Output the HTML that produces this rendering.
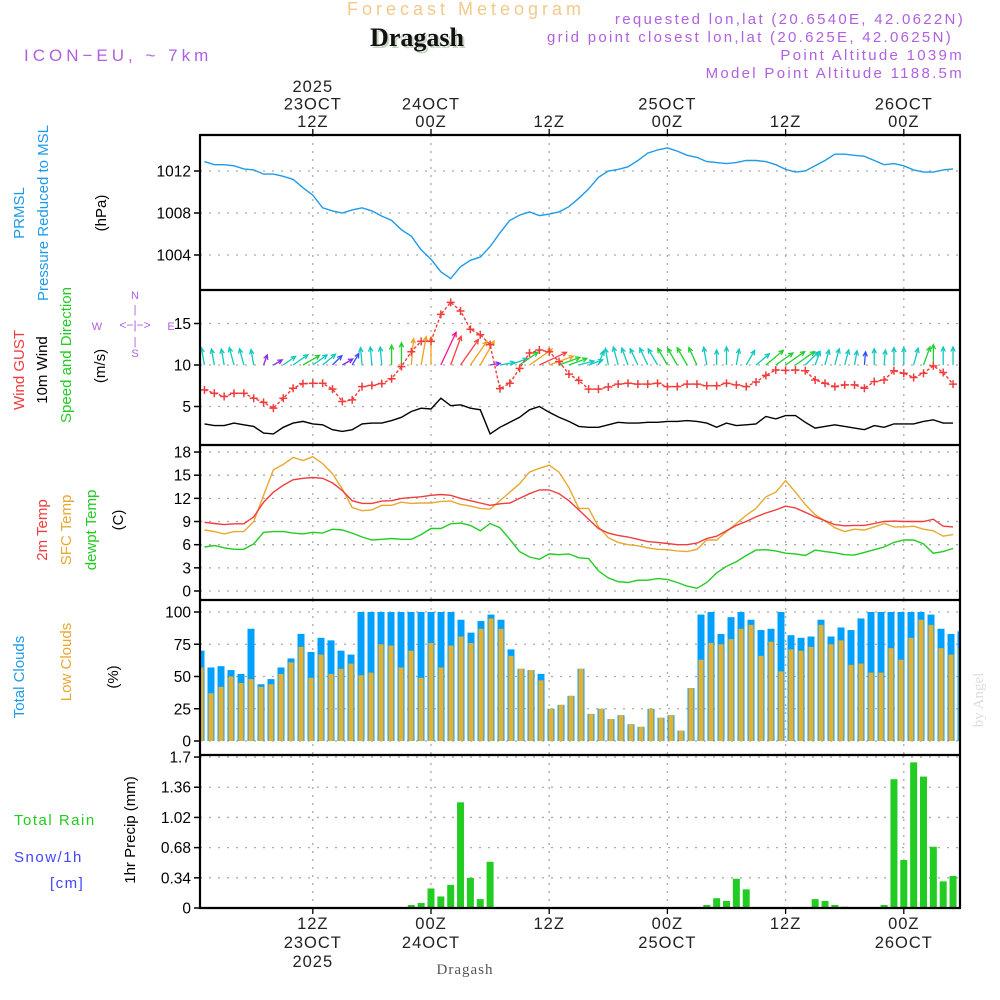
<!DOCTYPE html>
<html><head><meta charset="utf-8"><style>
html,body{margin:0;padding:0;background:#fff;}
svg{display:block;font-family:"Liberation Sans",sans-serif;}
</style></head><body>
<svg id="chart" width="1000" height="1000" viewBox="0 0 1000 1000" xmlns="http://www.w3.org/2000/svg">
<rect x="0" y="0" width="1000" height="1000" fill="#fff"/>
<g id="grid"></g>
<g id="marks"></g>
<g id="axes"></g>
<g>
<text x="466" y="15" text-anchor="middle" font-size="18" letter-spacing="4" fill="#f3c98a">Forecast Meteogram</text>
<text x="419" y="48" text-anchor="middle" font-size="26" font-weight="bold" font-family="Liberation Serif, serif" fill="#c9d6c4">Dragash</text>
<text x="417" y="46" text-anchor="middle" font-size="26" font-weight="bold" font-family="Liberation Serif, serif" fill="#111">Dragash</text>
<text x="24" y="61" font-size="17" letter-spacing="4" fill="#b060e0">ICON−EU, ~ 7km</text>
<text x="965" y="24" text-anchor="end" font-size="15" letter-spacing="2.3" fill="#b060e0">requested lon,lat (20.6540E, 42.0622N)</text>
<text x="953" y="42" text-anchor="end" font-size="15" letter-spacing="2.3" fill="#b060e0">grid point closest lon,lat (20.625E, 42.0625N)</text>
<text x="964" y="60" text-anchor="end" font-size="15" letter-spacing="2.3" fill="#b060e0">Point Altitude 1039m</text>
<text x="964" y="78" text-anchor="end" font-size="15" letter-spacing="2.3" fill="#b060e0">Model Point Altitude 1188.5m</text>
</g>
<g font-size="15">
<text transform="translate(24,213) rotate(-90)" text-anchor="middle" fill="#1e9be8">PRMSL</text>
<text transform="translate(48,213) rotate(-90)" text-anchor="middle" fill="#1e9be8">Pressure Reduced to MSL</text>
<text transform="translate(106,213) rotate(-90)" text-anchor="middle" fill="#000">(hPa)</text>
<text transform="translate(24,370) rotate(-90)" text-anchor="middle" fill="#f03c3c">Wind GUST</text>
<text transform="translate(47,370) rotate(-90)" text-anchor="middle" fill="#000">10m Wind</text>
<text transform="translate(71,355) rotate(-90)" text-anchor="middle" fill="#22cc22">Speed and Direction</text>
<text transform="translate(105,366) rotate(-90)" text-anchor="middle" fill="#000">(m/s)</text>
<g fill="#b060e0" font-size="11">
<text x="135" y="299" text-anchor="middle">N</text><text x="135" y="357" text-anchor="middle">S</text>
<text x="97" y="330" text-anchor="middle">W</text><text x="171" y="330" text-anchor="middle">E</text>
<text x="135" y="329" text-anchor="middle" font-size="12">&lt;−|−&gt;</text>
<text x="135" y="313" text-anchor="middle" font-size="11">|</text><text x="135" y="345" text-anchor="middle" font-size="11">|</text>
</g>
<text transform="translate(47,530) rotate(-90)" text-anchor="middle" fill="#f03c3c">2m Temp</text>
<text transform="translate(71,530) rotate(-90)" text-anchor="middle" fill="#e8a830">SFC Temp</text>
<text transform="translate(96,530) rotate(-90)" text-anchor="middle" fill="#22cc22">dewpt Temp</text>
<text transform="translate(123,520) rotate(-90)" text-anchor="middle" fill="#000">(C)</text>
<text transform="translate(24,677) rotate(-90)" text-anchor="middle" fill="#1e9be8">Total Clouds</text>
<text transform="translate(71,662) rotate(-90)" text-anchor="middle" fill="#e8a830">Low Clouds</text>
<text transform="translate(118,677) rotate(-90)" text-anchor="middle" fill="#000">(%)</text>
<text x="14" y="825" fill="#22cc22" letter-spacing="1.5">Total   Rain</text>
<text x="14" y="862" fill="#4444ff" letter-spacing="1.5">Snow/1h</text>
<text x="50" y="888" fill="#4444ff" letter-spacing="1.5">[cm]</text>
<text transform="translate(135,830) rotate(-90)" text-anchor="middle" fill="#000">1hr Precip (mm)</text>
<text transform="translate(983,700) rotate(-90)" text-anchor="middle" font-family="Liberation Serif, serif" fill="#d8e0d8">by Angel</text>
<text x="465" y="974" text-anchor="middle" font-family="Liberation Serif, serif" fill="#555" letter-spacing="1">Dragash</text>
</g>
</svg>
<script>
const hours = [];
for (let h = -23; h <= 53; h++) hours.push(h);
const pressure = [1012.9,1012.6,1012.6,1012.5,1012.2,1012.1,1011.7,1011.7,1011.5,1011.2,1010.4,1009.7,1008.5,1008.2,1008.0,1008.3,1008.5,1008.2,1007.7,1007.3,1006.4,1005.8,1004.5,1003.6,1002.4,1001.75,1002.9,1003.5,1003.8,1004.8,1006.1,1007.3,1007.8,1008.1,1007.75,1007.9,1008.1,1008.6,1009.4,1010.3,1011.4,1012.0,1012.15,1012.4,1013.0,1013.7,1014.0,1014.2,1013.9,1013.5,1013.3,1012.9,1012.8,1012.7,1012.8,1013.0,1013.0,1012.9,1012.6,1012.15,1011.9,1012.0,1012.5,1013.0,1013.6,1013.6,1013.5,1013.4,1013.0,1012.6,1012.7,1012.5,1012.1,1011.9,1011.9,1012.1,1012.2];
const gust = [7.0,6.6,6.2,6.6,6.6,6.0,5.5,4.8,6.0,7.2,7.75,7.8,7.8,7.1,5.6,5.8,7.4,7.55,7.75,8.35,9.8,11.6,12.85,12.85,16.1,17.55,16.5,14.3,13.65,12.45,7.15,7.8,9.6,11.45,11.8,11.6,10.4,8.9,8.15,7.1,7.1,7.35,7.7,7.8,7.7,7.7,7.8,7.4,7.4,7.7,7.7,7.5,7.5,7.8,7.6,7.4,7.95,8.75,9.4,9.35,9.4,9.3,8.2,7.8,7.4,7.6,7.6,7.2,8.0,8.2,9.3,9.0,8.5,9.0,9.9,9.1,7.7];
const windSpeed = [2.9,2.7,2.7,3.0,2.8,2.6,1.8,1.7,2.5,3.0,3.2,2.9,2.8,2.2,2.0,2.2,2.9,3.0,3.0,3.3,3.7,4.4,4.8,4.7,6.0,5.1,5.2,4.8,4.6,1.7,2.5,3.1,3.7,4.6,5.0,4.3,3.7,3.2,2.6,2.5,2.5,2.8,3.1,3.0,3.0,3.1,3.1,3.2,3.2,3.3,3.2,3.0,2.5,3.0,2.7,2.8,2.9,3.8,3.5,3.9,3.9,3.1,2.4,2.6,2.8,2.6,2.4,2.2,2.7,2.5,2.9,2.9,2.9,3.2,3.4,3.0,3.0];
const windHeading = [-10,-10,-10,-15,-15,-10,20,60,55,55,60,55,50,45,60,30,-5,-5,-5,0,0,5,10,0,25,20,35,35,30,80,80,70,55,55,65,70,70,70,75,70,20,-10,-15,-20,-25,-25,-30,-30,-30,-30,-25,-10,0,0,10,30,50,50,55,55,55,45,20,15,15,15,10,5,0,5,0,0,15,20,0,0,0];
const temp2m = [8.9,8.75,8.6,8.7,8.7,9.6,11.5,12.8,13.7,14.4,14.6,14.7,14.6,14.0,13.0,11.7,11.35,11.35,11.65,11.7,12.0,12.1,12.2,12.4,12.5,12.4,12.0,11.7,11.4,11.1,11.3,11.4,12.0,12.6,13.1,13.1,12.6,11.7,10.5,9.3,8.1,7.5,7.2,7.0,6.7,6.4,6.3,6.15,6.0,6.0,6.2,6.8,7.1,7.8,8.5,9.0,9.6,10.1,10.5,11.0,10.75,10.2,9.6,9.1,8.6,8.45,8.5,8.5,8.75,9.0,9.05,9.0,9.0,9.0,9.3,8.4,8.3];
const tempSfc = [7.9,7.7,7.4,7.7,7.7,9.0,12.4,15.7,16.4,17.3,16.9,17.4,16.5,15.2,13.2,10.8,10.4,10.5,11.1,11.1,11.5,11.35,11.4,11.4,11.6,11.65,11.2,11.0,10.7,10.6,11.7,12.8,13.9,15.4,15.9,16.3,15.4,13.4,10.7,10.7,8.3,6.9,6.3,6.0,5.85,5.6,5.4,5.35,5.2,5.1,5.4,6.6,6.6,7.7,8.75,9.8,10.7,12.2,12.8,14.3,12.8,11.2,9.9,9.05,8.2,7.7,8.0,7.9,8.3,8.75,8.3,8.3,8.4,8.0,7.8,7.1,7.3];
const dewpoint = [5.7,5.9,5.6,5.4,5.4,6.1,7.6,7.7,7.7,7.5,7.4,7.6,7.5,8.0,7.9,7.5,7.0,6.6,6.7,6.8,6.7,6.7,7.3,8.1,8.1,8.7,8.8,8.5,7.8,8.75,8.2,6.7,5.1,4.4,4.1,4.8,4.7,4.8,4.3,4.2,2.6,1.7,1.2,1.1,1.4,1.4,1.6,1.5,1.1,0.64,0.35,1.1,2.35,3.2,3.8,4.6,5.3,5.35,5.2,4.9,4.8,4.6,5.3,5.1,4.95,4.7,4.65,5.0,5.35,5.7,6.3,6.6,6.6,6.1,4.9,5.1,5.5];
const totalClouds = [70,57,58,55,52,87,44,48,57,64,83,69,80,78,70,67,100,100,100,100,100,100,100,100,100,100,94,84,93,98,94,71,56,55,52,25,28,35,56,21,25,17,20,13,11,25,18,20,8,41,98,100,83,96,100,94,86,87,100,82,80,81,94,81,88,86,95,100,100,100,100,100,100,98,87,83,85];
const lowClouds = [57,37,42,50,45,48,42,44,52,61,73,49,67,52,56,60,51,53,75,74,57,70,49,76,57,74,81,76,87,95,87,66,56,55,47,25,28,35,56,21,25,17,20,13,11,25,18,20,8,41,63,76,75,79,87,90,66,77,54,71,70,73,90,75,78,59,60,53,53,72,63,80,94,90,72,67,72];
const precip = [0,0,0,0,0,0,0,0,0,0,0,0,0,0,0,0,0,0,0,0,0,0.034,0.056,0.22,0.13,0.26,1.19,0.34,0.10,0.52,0.005,0.01,0,0,0,0,0,0,0,0,0,0,0,0,0,0,0,0,0,0,0,0.034,0.11,0.08,0.33,0.21,0.01,0,0,0,0,0,0.10,0.08,0.034,0.015,0,0,0,0.034,1.45,0.54,1.64,1.48,0.69,0.30,0.36];
const pressureTicks = [1004,1008,1012];
const windTicks = [5,10,15];
const tempTicks = [0,3,6,9,12,15,18];
const cloudTicks = [0,25,50,75,100];
const precipTicks = [0,0.34,0.68,1.02,1.36,1.7];
const timeTicks = [-12,0,12,24,36,48];
const topLabels = [["2025","23OCT","12Z"],["","24OCT","00Z"],["","","12Z"],["","25OCT","00Z"],["","","12Z"],["","26OCT","00Z"]];
const bottomLabels = [["12Z","23OCT","2025"],["00Z","24OCT",""],["12Z","",""],["00Z","25OCT",""],["12Z","",""],["00Z","26OCT",""]];

const NS = "http://www.w3.org/2000/svg";
const X0 = 200, X1 = 960;
const x = t => 431 + t * 9.85;
const xc = t => 431 + t * 10;
const yP = v => 171 - (v - 1012) * 10.5;
const yW = v => 448 - v * 8.3;
const yT = v => 591 - v * 7.72;
const yC = v => 741 - v * 1.29;
const yR = v => 908 - v * 88.8;
const panels = [[135,290,yP,pressureTicks,v=>String(v)],[290,445,yW,windTicks,v=>String(v)],[445,600,yT,tempTicks,v=>String(v)],[600,755,yC,cloudTicks,v=>String(v)],[755,908,yR,precipTicks,v=>String(v)]];

function mk(tag, attrs, parent) {
  const e = document.createElementNS(NS, tag);
  for (const k in attrs) e.setAttribute(k, attrs[k]);
  parent.appendChild(e);
  return e;
}
const grid = document.getElementById('grid');
const marks = document.getElementById('marks');
const axes = document.getElementById('axes');

const defs = mk('defs', {}, marks);
const cp = mk('clipPath', {id: 'plotclip'}, defs);
mk('rect', {x: X0, y: 135, width: X1 - X0, height: 773}, cp);
marks.setAttribute('clip-path', 'url(#plotclip)');

panels.forEach((p, pi) => {
  const [top, bot, ys, ticks, fmt] = p;
  ticks.forEach(v => {
    const yy = ys(v);
    const gl = mk('line', {x1: X0, x2: X1, y1: yy, y2: yy, stroke: '#aaa', 'stroke-dasharray': '2,7', 'stroke-width': 1.3}, grid);
    
    
    const tk = mk('line', {x1: 194, x2: X0, y1: yy, y2: yy, stroke: '#000', 'stroke-width': 1.5}, axes);
    
    
    const lb = mk('text', {x: 191, y: yy + 5.5, 'text-anchor': 'end', 'font-size': 15.5, fill: '#000'}, axes);
    lb.textContent = fmt(v);
    
    
  });
  timeTicks.forEach(t => {
    const gl = mk('line', {x1: x(t), x2: x(t), y1: top, y2: bot, stroke: '#aaa', 'stroke-dasharray': '2,6', 'stroke-width': 1.3}, grid);
    
    
  });
});

function line(arr, ys, color, name) {
  const d = arr.map((v, i) => (i ? 'L' : 'M') + x(hours[i]).toFixed(1) + ',' + ys(v).toFixed(1)).join('');
  const p = mk('path', {d: d, fill: 'none', stroke: color, 'stroke-width': 1.4}, marks);
  
  
  return p;
}
line(pressure, yP, '#1e9be8', 'pressure-line');

function windColor(s) {
  if (s < 2.1) return '#8a2be2';
  if (s < 2.4) return '#3050ff';
  if (s < 3.15) return '#10c8c0';
  if (s < 4.3) return '#20d030';
  if (s < 5.0) return '#f0a020';
  if (s < 5.6) return '#ff4040';
  return '#ff1090';
}
hours.forEach((t, i) => {
  const s = windSpeed[i], a = windHeading[i] * Math.PI / 180, L = 6 * s;
  const bx = x(t), by = 365;
  const ex = bx + L * Math.sin(a), ey = by - L * Math.cos(a);
  const c = windColor(s);
  const g = mk('g', {stroke: c, 'stroke-width': 1.3, fill: 'none'}, marks);
  
  
  mk('line', {x1: bx, y1: by, x2: ex, y2: ey}, g);
  const h = 5, da = 0.45;
  const back = a + Math.PI;
  mk('path', {d: `M${ex + h * Math.sin(back - da)},${ey - h * Math.cos(back - da)}L${ex},${ey}L${ex + h * Math.sin(back + da)},${ey - h * Math.cos(back + da)}`}, g);
});
line(windSpeed, yW, '#000', 'wind-speed-line');
const gp = line(gust, yW, '#f03c3c', 'gust-line');
gp.setAttribute('stroke-dasharray', '3,2');
gust.forEach((v, i) => {
  const cx = x(hours[i]), cy = yW(v);
  const m = mk('path', {d: `M${cx - 4},${cy}H${cx + 4}M${cx},${cy - 4}V${cy + 4}`, stroke: '#f03c3c', 'stroke-width': 1.5}, marks);
  
  
});

line(tempSfc, yT, '#e8a830', 'sfc-temp-line');
line(temp2m, yT, '#f03c3c', 't2m-line');
line(dewpoint, yT, '#22cc22', 'dewpoint-line');

hours.forEach((t, i) => {
  const cx = xc(t);
  const b = mk('rect', {x: cx - 3.5, y: yC(totalClouds[i]), width: 7, height: yC(0) - yC(totalClouds[i]), fill: '#00a0ff'}, marks);
  
  
  const o = mk('rect', {x: cx - 2.5, y: yC(lowClouds[i]), width: 5, height: yC(0) - yC(lowClouds[i]), fill: '#e8b030'}, marks);
  
  
});
hours.forEach((t, i) => {
  if (precip[i] <= 0) return;
  const cx = x(t);
  const b = mk('rect', {x: cx - 3.5, y: yR(precip[i]), width: 7, height: yR(0) - yR(precip[i]), fill: '#22cc22'}, marks);
  
  
});
const zl = mk('line', {x1: X0, x2: X1, y1: 908, y2: 908, stroke: '#000', 'stroke-width': 1.5, 'stroke-dasharray': '6,2'}, marks);



[135, 290, 445, 600, 755, 908].forEach(yy => {
  const l = mk('line', {x1: X0 - 1, x2: X1 + 1, y1: yy, y2: yy, stroke: '#000', 'stroke-width': 2.2}, axes);
  
  
});
[X0, X1].forEach(xx => {
  const l = mk('line', {x1: xx, x2: xx, y1: 135, y2: 908, stroke: '#000', 'stroke-width': 2.2}, axes);
  
  
});

timeTicks.forEach((t, k) => {
  const tx = x(t);
  const a = mk('line', {x1: tx, x2: tx, y1: 129, y2: 135, stroke: '#000', 'stroke-width': 1.3}, axes);
  
  
  const b = mk('line', {x1: tx, x2: tx, y1: 908, y2: 914, stroke: '#000', 'stroke-width': 1.3}, axes);
  
  
  topLabels[k].forEach((s, j) => {
    if (!s) return;
    const e = mk('text', {x: tx, y: 92 + j * 17.5, 'text-anchor': 'middle', 'font-size': 16.5, fill: '#222', 'letter-spacing': 1}, axes);
    e.textContent = s;
    
    
  });
  bottomLabels[k].forEach((s, j) => {
    if (!s) return;
    const e = mk('text', {x: tx, y: 929 + j * 19, 'text-anchor': 'middle', 'font-size': 16.5, fill: '#222', 'letter-spacing': 1}, axes);
    e.textContent = s;
    
    
  });
});
</script>
</body></html>
